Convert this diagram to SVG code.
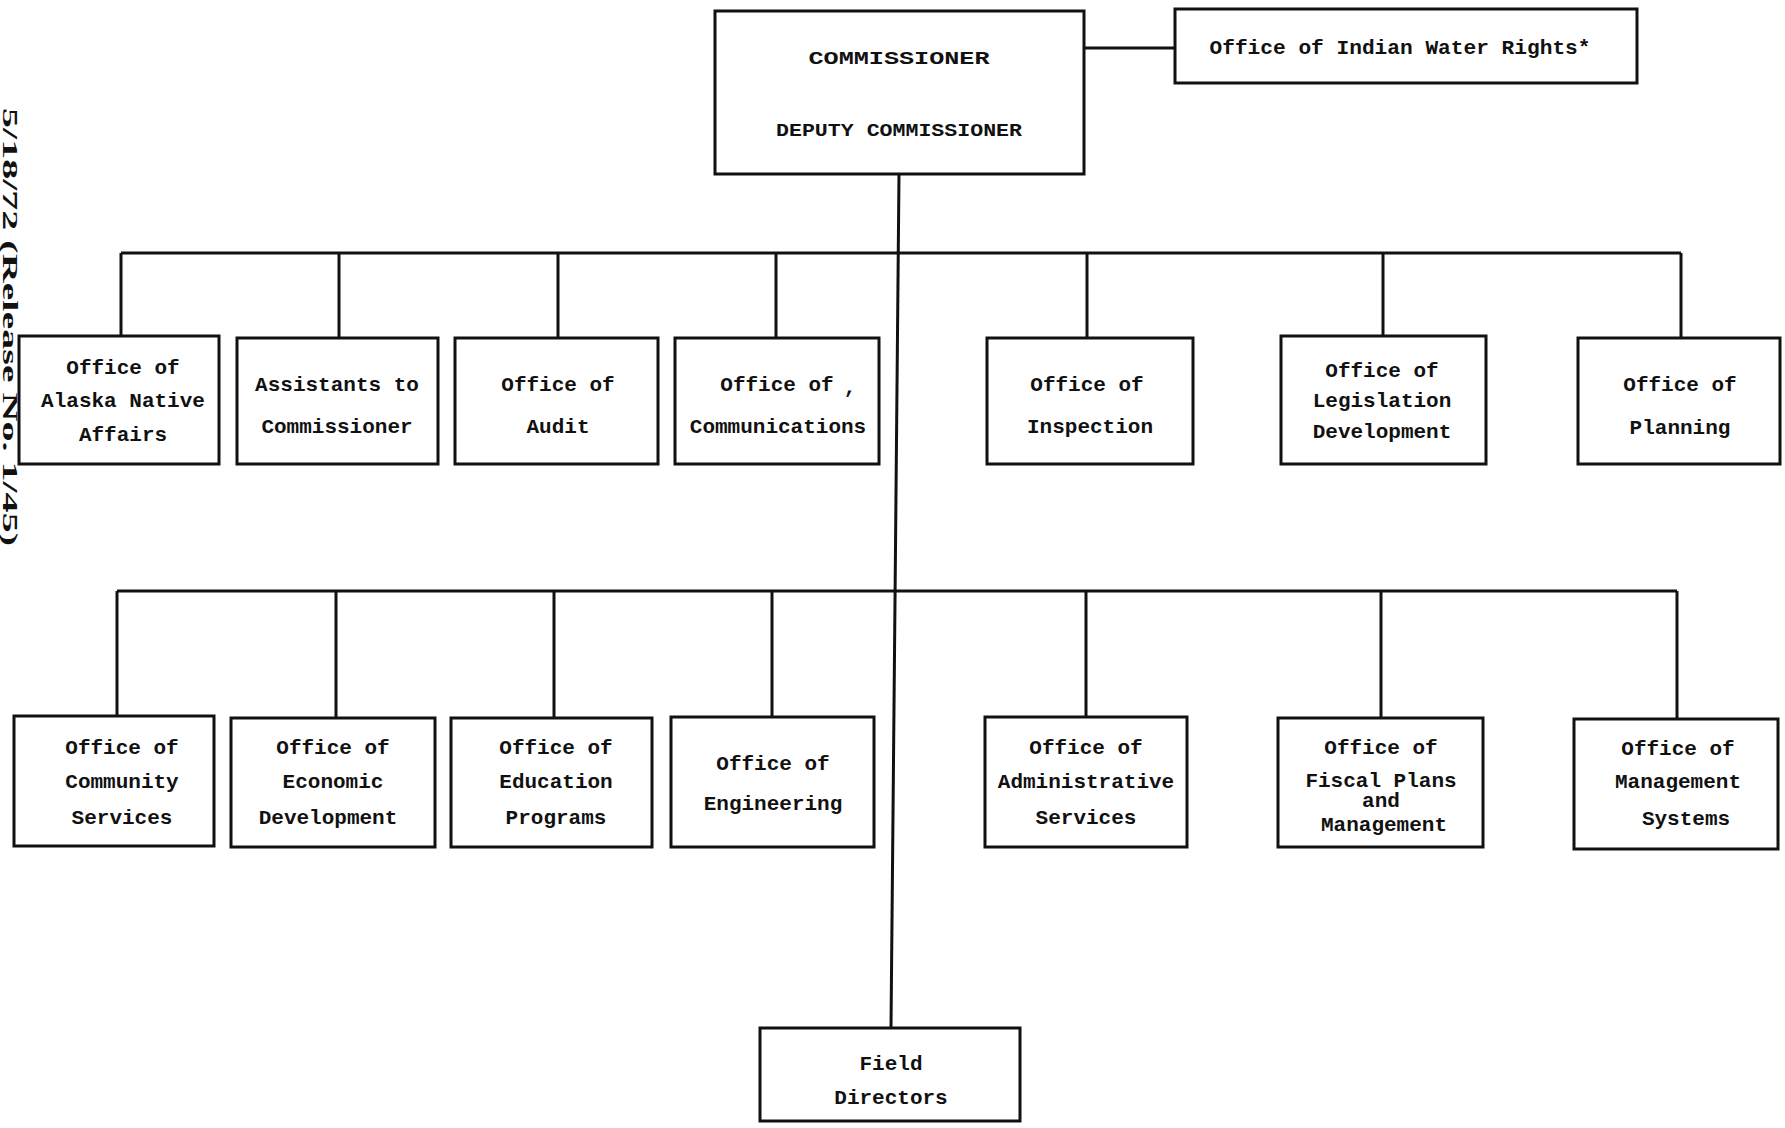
<svg xmlns="http://www.w3.org/2000/svg" width="1785" height="1128" viewBox="0 0 1785 1128">
<style>
.box{fill:#fff;stroke:#111;stroke-width:3}
.ln{stroke:#111;stroke-width:3;fill:none}
.t{font-family:"Liberation Mono","DejaVu Sans Mono",monospace;font-weight:bold;font-size:21px;fill:#111;text-anchor:middle}
.h{font-family:"Liberation Mono","DejaVu Sans Mono",monospace;font-weight:bold;font-size:19px;fill:#111;text-anchor:middle}
.side{font-family:"Liberation Serif","DejaVu Serif",serif;font-weight:bold;font-size:20px;fill:#111}
</style>
<rect width="1785" height="1128" fill="#fff"/>
<text class="side" transform="translate(3,108) rotate(90)" textLength="438" lengthAdjust="spacingAndGlyphs">5/18/72 (Release No. 1/45)</text>
<g id="connectors">
<line class="ln" x1="1084" y1="48" x2="1175" y2="48"/>
<line class="ln" x1="899" y1="174" x2="891" y2="1028"/>
<line class="ln" x1="121" y1="253" x2="1681" y2="253"/>
<line class="ln" x1="121" y1="253" x2="121" y2="336"/>
<line class="ln" x1="339" y1="253" x2="339" y2="338"/>
<line class="ln" x1="558" y1="253" x2="558" y2="338"/>
<line class="ln" x1="776" y1="253" x2="776" y2="338"/>
<line class="ln" x1="1087" y1="253" x2="1087" y2="338"/>
<line class="ln" x1="1383" y1="253" x2="1383" y2="336"/>
<line class="ln" x1="1681" y1="253" x2="1681" y2="338"/>
<line class="ln" x1="117" y1="591" x2="1677" y2="591"/>
<line class="ln" x1="117" y1="591" x2="117" y2="716"/>
<line class="ln" x1="336" y1="591" x2="336" y2="718"/>
<line class="ln" x1="554" y1="591" x2="554" y2="718"/>
<line class="ln" x1="772" y1="591" x2="772" y2="717"/>
<line class="ln" x1="1086" y1="591" x2="1086" y2="717"/>
<line class="ln" x1="1381" y1="591" x2="1381" y2="718"/>
<line class="ln" x1="1677" y1="591" x2="1677" y2="719"/>
</g>
<g id="commissioner">
<rect class="box" x="715" y="11" width="369" height="163"/>
<text class="h" x="899" y="64" textLength="181" lengthAdjust="spacingAndGlyphs">COMMISSIONER</text>
<text class="h" x="899" y="136" textLength="246" lengthAdjust="spacingAndGlyphs">DEPUTY COMMISSIONER</text>
</g>
<g id="water-rights">
<rect class="box" x="1175" y="9" width="462" height="74"/>
<text class="t" x="1400" y="54" textLength="381" lengthAdjust="spacingAndGlyphs">Office of Indian Water Rights*</text>
</g>
<g id="alaska">
<rect class="box" x="19" y="336" width="200" height="128"/>
<text class="t" x="123" y="374">Office of</text>
<text class="t" x="123" y="407">Alaska Native</text>
<text class="t" x="123" y="441">Affairs</text>
</g>
<g id="assistants">
<rect class="box" x="237" y="338" width="201" height="126"/>
<text class="t" x="337" y="391">Assistants to</text>
<text class="t" x="337" y="433">Commissioner</text>
</g>
<g id="audit">
<rect class="box" x="455" y="338" width="203" height="126"/>
<text class="t" x="558" y="391">Office of</text>
<text class="t" x="558" y="433">Audit</text>
</g>
<g id="communications">
<rect class="box" x="675" y="338" width="204" height="126"/>
<text class="t" x="777" y="391">Office of</text>
<text class="t" x="850" y="393">,</text>
<text class="t" x="778" y="433">Communications</text>
</g>
<g id="inspection">
<rect class="box" x="987" y="338" width="206" height="126"/>
<text class="t" x="1087" y="391">Office of</text>
<text class="t" x="1090" y="433">Inspection</text>
</g>
<g id="legislation">
<rect class="box" x="1281" y="336" width="205" height="128"/>
<text class="t" x="1382" y="377">Office of</text>
<text class="t" x="1382" y="407">Legislation</text>
<text class="t" x="1382" y="438">Development</text>
</g>
<g id="planning">
<rect class="box" x="1578" y="338" width="202" height="126"/>
<text class="t" x="1680" y="391">Office of</text>
<text class="t" x="1680" y="434">Planning</text>
</g>
<g id="community">
<rect class="box" x="14" y="716" width="200" height="130"/>
<text class="t" x="122" y="754">Office of</text>
<text class="t" x="122" y="788">Community</text>
<text class="t" x="122" y="824">Services</text>
</g>
<g id="economic">
<rect class="box" x="231" y="718" width="204" height="129"/>
<text class="t" x="333" y="754">Office of</text>
<text class="t" x="333" y="788">Economic</text>
<text class="t" x="328" y="824">Development</text>
</g>
<g id="education">
<rect class="box" x="451" y="718" width="201" height="129"/>
<text class="t" x="556" y="754">Office of</text>
<text class="t" x="556" y="788">Education</text>
<text class="t" x="556" y="824">Programs</text>
</g>
<g id="engineering">
<rect class="box" x="671" y="717" width="203" height="130"/>
<text class="t" x="773" y="770">Office of</text>
<text class="t" x="773" y="810">Engineering</text>
</g>
<g id="administrative">
<rect class="box" x="985" y="717" width="202" height="130"/>
<text class="t" x="1086" y="754">Office of</text>
<text class="t" x="1086" y="788">Administrative</text>
<text class="t" x="1086" y="824">Services</text>
</g>
<g id="fiscal">
<rect class="box" x="1278" y="718" width="205" height="129"/>
<text class="t" x="1381" y="754">Office of</text>
<text class="t" x="1381" y="787">Fiscal Plans</text>
<text class="t" x="1381" y="807">and</text>
<text class="t" x="1384" y="831">Management</text>
</g>
<g id="management">
<rect class="box" x="1574" y="719" width="204" height="130"/>
<text class="t" x="1678" y="755">Office of</text>
<text class="t" x="1678" y="788">Management</text>
<text class="t" x="1686" y="825">Systems</text>
</g>
<g id="field-directors">
<rect class="box" x="760" y="1028" width="260" height="93"/>
<text class="t" x="891" y="1070">Field</text>
<text class="t" x="891" y="1104">Directors</text>
</g>
</svg>
